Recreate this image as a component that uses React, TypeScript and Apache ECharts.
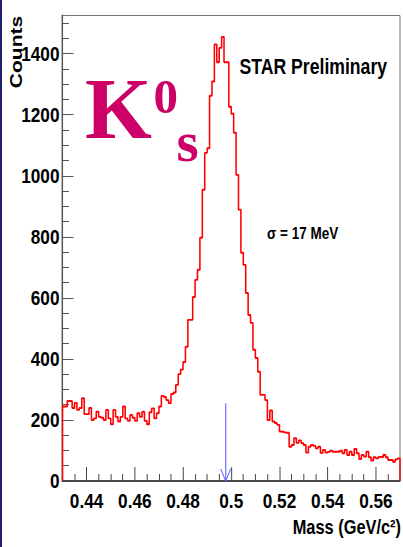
import React, { useEffect, useRef } from "react";
import * as echarts from "echarts";

// Histogram: K0s invariant mass, 1 MeV bins from 0.430 to 0.570 GeV/c^2
const binStart = 0.43;
const binWidth = 0.001;
const counts = [
  244, 244, 262, 262, 239, 256, 233, 239, 271, 219,
  219, 239, 200, 205, 227, 210, 207, 200, 233, 205,
  186, 233, 210, 195, 210, 244, 205, 197, 216, 207,
  197, 222, 210, 227, 197, 186, 225, 238, 205, 222,
  244, 279, 275, 265, 255, 285, 290, 315, 350, 365,
  390, 440, 528, 528, 603, 659, 692, 797, 954, 1075,
  1090, 1262, 1309, 1430, 1372, 1419, 1455, 1372, 1372, 1226,
  1203, 1141, 1003, 889, 748, 708, 616, 544, 518, 430,
  403, 358, 282, 282, 265, 200, 231, 195, 190, 184,
  162, 160, 158, 158, 112, 118, 140, 125, 133, 124,
  118, 93, 112, 118, 115, 107, 112, 92, 102, 93,
  96, 99, 96, 96, 96, 99, 91, 102, 85, 96,
  85, 105, 91, 72, 85, 80, 96, 78, 67, 78,
  74, 79, 78, 85, 78, 69, 69, 63, 71, 74,
];

const xMin = 0.43;
const xMax = 0.57;
const yMin = 0;
const yMax = 1525;
const xMajorTicks = [0.44, 0.46, 0.48, 0.5, 0.52, 0.54, 0.56];
const xMinorTicks = [
  0.435, 0.445, 0.45, 0.455, 0.465, 0.47, 0.475, 0.485, 0.49, 0.495,
  0.505, 0.51, 0.515, 0.525, 0.53, 0.535, 0.545, 0.55, 0.555, 0.565,
];
const yMajorTicks = [0, 200, 400, 600, 800, 1000, 1200, 1400];
const yMinorTicks = [
  50, 100, 150, 250, 300, 350, 450, 500, 550, 650, 700, 750, 850, 900, 950,
  1050, 1100, 1150, 1250, 1300, 1350, 1450, 1500,
];

// K0s PDG mass marker
const arrowMass = 0.4977;
const arrowTop = 255;

// The original figure is horizontally condensed (narrow Helvetica look):
// the chart is laid out on a wider canvas and squeezed with a CSS scaleX.
const SQUEEZE = 0.82;
const W = 403;
const H = 547;
const DW = W / SQUEEZE;
const sx = (px: number) => px / SQUEEZE;

const sans = '"Liberation Sans", Arial, Helvetica, sans-serif';
const serif = '"Liberation Serif", "Times New Roman", serif';

function buildOutline(): number[][] {
  const pts: number[][] = [[xMin, 0]];
  counts.forEach((c, i) => {
    const x0 = +(binStart + i * binWidth).toFixed(4);
    const x1 = +(binStart + (i + 1) * binWidth).toFixed(4);
    pts.push([x0, c], [x1, c]);
  });
  pts.push([+(binStart + counts.length * binWidth).toFixed(4), 0]);
  return pts;
}

export default function App() {
  const ref = useRef<HTMLDivElement>(null);

  useEffect(() => {
    if (!ref.current) return;
    const chart = echarts.init(ref.current, undefined, { renderer: "svg" });
    const axisColor = "#444";
    const labelFont = {
      fontFamily: sans,
      fontWeight: "bold",
      fontSize: 21,
      color: "#000",
    };
    const option: any = {
      animation: false,
      backgroundColor: "#fff",
      grid: {
        left: sx(62.5),
        top: 15.5,
        width: sx(337.5),
        height: 465.5,
        show: true,
        borderColor: "#666",
        borderWidth: 1,
        backgroundColor: "transparent",
      },
      xAxis: [
        {
          type: "value",
          min: xMin,
          max: xMax,
          position: "bottom",
          axisLine: { show: true, lineStyle: { color: "#222", width: 1.5 } },
          axisTick: {
            show: true,
            inside: true,
            length: 14,
            customValues: xMajorTicks,
            lineStyle: { color: axisColor, width: 1.2 },
          },
          axisLabel: {
            show: true,
            customValues: xMajorTicks,
            margin: 9,
            formatter: (v: number) => String(+v.toFixed(3)),
            ...labelFont,
          },
          splitLine: { show: false },
        },
        {
          type: "value",
          min: xMin,
          max: xMax,
          position: "bottom",
          axisLine: { show: false },
          axisTick: {
            show: true,
            inside: true,
            length: 7,
            customValues: xMinorTicks,
            lineStyle: { color: axisColor, width: 1.2 },
          },
          axisLabel: { show: false },
          splitLine: { show: false },
        },
      ],
      yAxis: [
        {
          type: "value",
          min: yMin,
          max: yMax,
          position: "left",
          axisLine: { show: true, lineStyle: { color: "#555", width: 1.8 } },
          axisTick: {
            show: true,
            inside: true,
            length: sx(11),
            customValues: yMajorTicks,
            lineStyle: { color: axisColor, width: 1 },
          },
          axisLabel: {
            show: true,
            customValues: yMajorTicks,
            margin: sx(3),
            formatter: (v: number) => String(v),
            ...labelFont,
          },
          splitLine: { show: false },
        },
        {
          type: "value",
          min: yMin,
          max: yMax,
          position: "left",
          axisLine: { show: false },
          axisTick: {
            show: true,
            inside: true,
            length: sx(6.5),
            customValues: yMinorTicks,
            lineStyle: { color: axisColor, width: 1 },
          },
          axisLabel: { show: false },
          splitLine: { show: false },
        },
      ],
      series: [
        {
          type: "line",
          xAxisIndex: 0,
          yAxisIndex: 0,
          data: buildOutline(),
          showSymbol: false,
          symbol: "none",
          clip: false,
          lineStyle: { color: "#ff0000", width: 1.9 },
          z: 5,
        },
        {
          type: "custom",
          xAxisIndex: 0,
          yAxisIndex: 0,
          data: [[arrowMass, arrowTop]],
          z: 6,
          renderItem: (_params: any, api: any) => {
            const top = api.coord([api.value(0), api.value(1)]);
            const bot = api.coord([api.value(0), 0]);
            return {
              type: "group",
              children: [
                {
                  type: "line",
                  shape: { x1: top[0], y1: top[1], x2: bot[0], y2: bot[1] },
                  style: { stroke: "#8080ff", lineWidth: 1.7 },
                },
                {
                  type: "polyline",
                  shape: {
                    points: [
                      [bot[0] - sx(5), bot[1] - 12],
                      [bot[0], bot[1]],
                      [bot[0] + sx(5), bot[1] - 12],
                    ],
                  },
                  style: { stroke: "#6060ff", lineWidth: 1.2, fill: null },
                },
              ],
            };
          },
        },
      ],
      graphic: [
        {
          type: "rect",
          shape: { x: 0, y: 0, width: sx(2), height: H },
          style: { fill: "#20206a" },
          z: 10,
        },
        {
          type: "text",
          x: sx(16.5),
          y: 52,
          rotation: Math.PI / 2,
          style: {
            text: "Counts",
            fontFamily: sans,
            fontWeight: "bold",
            fontSize: 21,
            fill: "#000",
            align: "center",
            verticalAlign: "middle",
          },
          z: 10,
        },
        {
          type: "text",
          x: sx(401),
          y: 527,
          style: {
            text: "Mass (GeV/c²)",
            fontFamily: sans,
            fontWeight: "bold",
            fontSize: 20,
            fill: "#000",
            align: "right",
            verticalAlign: "middle",
          },
          z: 10,
        },
        {
          type: "text",
          x: sx(239.5),
          y: 66.8,
          style: {
            text: "STAR Preliminary",
            fontFamily: sans,
            fontWeight: "bold",
            fontSize: 21.5,
            fill: "#000",
            align: "left",
            verticalAlign: "middle",
          },
          z: 10,
        },
        {
          type: "text",
          x: sx(267),
          y: 232.5,
          style: {
            text: "σ = 17 MeV",
            fontFamily: sans,
            fontWeight: "bold",
            fontSize: 16.5,
            fill: "#000",
            align: "left",
            verticalAlign: "middle",
          },
          z: 10,
        },
        {
          type: "text",
          x: sx(85),
          y: 109,
          scaleX: 1 / SQUEEZE,
          style: {
            text: "K",
            fontFamily: serif,
            fontWeight: "bold",
            fontSize: 86,
            fill: "#cc0066",
            align: "left",
            verticalAlign: "middle",
          },
          z: 10,
        },
        {
          type: "text",
          x: sx(153.5),
          y: 96.8,
          scaleX: 1 / SQUEEZE,
          style: {
            text: "0",
            fontFamily: serif,
            fontWeight: "bold",
            fontSize: 49,
            fill: "#cc0066",
            align: "left",
            verticalAlign: "middle",
          },
          z: 10,
        },
        {
          type: "text",
          x: sx(176.5),
          y: 141.8,
          scaleX: 1 / SQUEEZE,
          style: {
            text: "s",
            fontFamily: serif,
            fontWeight: "bold",
            fontSize: 57,
            fill: "#cc0066",
            align: "left",
            verticalAlign: "middle",
          },
          z: 10,
        },
      ],
    };
    chart.setOption(option);
    return () => chart.dispose();
  }, []);

  return (
    <div
      style={{
        position: "absolute",
        left: 0,
        top: 0,
        width: W,
        height: H,
        overflow: "hidden",
        background: "#fff",
      }}
    >
      <div
        ref={ref}
        style={{
          width: DW,
          height: H,
          transform: `scaleX(${SQUEEZE})`,
          transformOrigin: "0 0",
        }}
      />
    </div>
  );
}
